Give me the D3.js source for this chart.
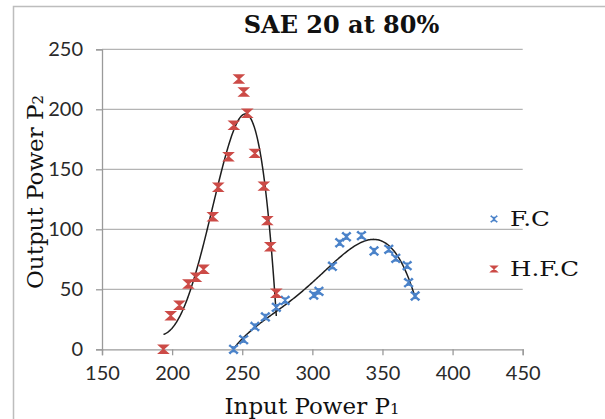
<!DOCTYPE html>
<html>
<head>
<meta charset="utf-8">
<script src="https://cdn.jsdelivr.net/npm/d3@7"></script>
<style>
  body { margin: 0; background: #fff; }
  svg { display: block; }
</style>
</head>
<body>
<svg id="chart"></svg>
<script>
const width = 605,
  height = 419;

// values
const xTicks = [150, 200, 250, 300, 350, 400, 450];
const yTicks = [0, 50, 100, 150, 200, 250];
const seriesNames = ["F.C", "H.F.C"];

const fcInput = [243.8, 251, 259, 266.5, 274.3, 280.6, 301, 304.7, 314.3, 319.5, 324.3, 335, 344, 354.5, 359.5, 367.6, 368.6, 373.3];
const fcOutput = [0, 8, 19, 27, 35, 40.7, 45.2, 48.3, 69.2, 88.8, 93.8, 94.7, 81.9, 83.3, 75.8, 69.7, 55.5, 44.4];

const hfcInput = [193.8, 199, 205.2, 211.6, 217, 222.4, 229, 232.9, 240.2, 244, 247.6, 251.1, 253.6, 259, 265.4, 267.9, 270, 274.3];
const hfcOutput = [0, 28, 36.7, 54.4, 60, 66.7, 110.5, 135, 160.5, 186.7, 225.2, 214.4, 196.7, 163.3, 136, 107.2, 85.5, 46.7];

const trendOrder = 4;

const x = d3.scaleLinear().domain([150, 450]).range([102, 522.7]);
const y = d3.scaleLinear().domain([0, 250]).range([349.3, 49.3]);

const svg = d3
  .select("#chart")
  .attr("width", width)
  .attr("height", height)
  .attr("viewBox", [0, 0, width, height]);

// outer chart border (runs off the picture on right and bottom)
svg
  .append("rect")
  .attr("x", 13.5)
  .attr("y", 6.5)
  .attr("width", 640)
  .attr("height", 440)
  .attr("fill", "none")
  .attr("stroke", "#bdbdbd")
  .attr("stroke-width", 1.5);

// gridlines
svg
  .append("g")
  .selectAll("line")
  .data(yTicks.filter((d) => d > 0))
  .join("line")
  .attr("x1", x(150))
  .attr("x2", x(450))
  .attr("y1", (d) => y(d))
  .attr("y2", (d) => y(d))
  .attr("stroke", "#b4b4b4")
  .attr("stroke-width", 1.3);

// axes
const xAxis = svg
  .append("g")
  .attr("transform", `translate(0,${y(0)})`)
  .call(d3.axisBottom(x).tickValues(xTicks).tickSize(6).tickPadding(11));
const yAxis = svg
  .append("g")
  .attr("transform", `translate(${x(150)},0)`)
  .call(d3.axisLeft(y).tickValues(yTicks).tickSize(6).tickPadding(13));

[xAxis, yAxis].forEach((g) => {
  g.select(".domain").attr("stroke", "#9a9a9a").attr("stroke-width", 1.3);
  g.selectAll(".tick line").attr("stroke", "#9a9a9a").attr("stroke-width", 1.3);
  g.selectAll(".tick text")
    .attr("fill", "#2a2a2a")
    .style("font-family", "Lato, sans-serif")
    .style("font-size", "20px");
});

// least squares polynomial, like the spreadsheet trendline
function polyfit(xs, ys, order) {
  const mx = d3.mean(xs),
    sx = 50,
    n = order + 1;
  const A = Array.from({ length: n }, () => new Array(n + 1).fill(0));
  xs.forEach((xv, i) => {
    const t = (xv - mx) / sx;
    const p = [];
    for (let k = 0; k < 2 * n; k++) p.push(Math.pow(t, k));
    for (let r = 0; r < n; r++) {
      for (let c = 0; c < n; c++) A[r][c] += p[r + c];
      A[r][n] += ys[i] * p[r];
    }
  });
  for (let i = 0; i < n; i++) {
    let m = i;
    for (let r = i + 1; r < n; r++)
      if (Math.abs(A[r][i]) > Math.abs(A[m][i])) m = r;
    [A[i], A[m]] = [A[m], A[i]];
    for (let r = 0; r < n; r++) {
      if (r === i) continue;
      const f = A[r][i] / A[i][i];
      for (let c = i; c <= n; c++) A[r][c] -= f * A[i][c];
    }
  }
  const coef = A.map((row, i) => row[n] / row[i]);
  return (xv) => {
    const t = (xv - mx) / sx;
    return coef.reduce((s, c, k) => s + c * Math.pow(t, k), 0);
  };
}

svg
  .append("clipPath")
  .attr("id", "plot")
  .append("rect")
  .attr("x", x(150))
  .attr("y", y(250))
  .attr("width", x(450) - x(150))
  .attr("height", y(0) - y(250));

const line = d3
  .line()
  .x((d) => x(d[0]))
  .y((d) => y(d[1]));

function trend(xs, ys) {
  const f = polyfit(xs, ys, trendOrder);
  const [lo, hi] = d3.extent(xs);
  const pts = d3.range(0, 201).map((i) => {
    const xv = lo + ((hi - lo) * i) / 200;
    return [xv, f(xv)];
  });
  svg
    .append("path")
    .attr("clip-path", "url(#plot)")
    .attr("d", line(pts))
    .attr("fill", "none")
    .attr("stroke", "#1e1e1e")
    .attr("stroke-width", 1.5);
}

trend(hfcInput, hfcOutput);
trend(fcInput, fcOutput);

const blueX = "M-4.5,-4 Q0,0 4.5,-4 M-4.5,4 Q0,0 4.5,4 M-4,-4.5 L4,4.5 M4,-4.5 L-4,4.5";
const redX = "M-4.5,-4 H4.5 L-4.5,4 H4.5 Z";

function drawMarkers(xs, ys, shape, color) {
  svg
    .append("g")
    .selectAll("path")
    .data(xs.map((d, i) => [d, ys[i]]))
    .join("path")
    .attr("transform", (d) => `translate(${x(d[0])},${y(d[1])})`)
    .attr("d", shape)
    .attr("fill", shape === redX ? color : "none")
    .attr("stroke", color)
    .attr("stroke-width", shape === redX ? 1.4 : 2);
}

drawMarkers(fcInput, fcOutput, blueX, "#4a82c9");
drawMarkers(hfcInput, hfcOutput, redX, "#cc4b47");

// title
svg
  .append("text")
  .attr("x", 341.5)
  .attr("y", 33)
  .attr("text-anchor", "middle")
  .style("font-family", "'DejaVu Serif', serif")
  .style("font-weight", "bold")
  .style("font-size", "24px")
  .attr("fill", "#111")
  .text("SAE 20 at 80%");

// axis titles
const xTitle = svg
  .append("text")
  .attr("x", 312)
  .attr("y", 414)
  .attr("text-anchor", "middle")
  .style("font-family", "'DejaVu Serif', serif")
  .style("font-size", "23px")
  .attr("fill", "#111");
xTitle.append("tspan").text("Input Power P");
xTitle.append("tspan").style("font-size", "15px").text("1");

const yTitle = svg
  .append("text")
  .attr("transform", "translate(43,192) rotate(-90)")
  .attr("text-anchor", "middle")
  .style("font-family", "'DejaVu Serif', serif")
  .style("font-size", "23px")
  .attr("fill", "#111");
yTitle.append("tspan").text("Output Power P");
yTitle.append("tspan").style("font-size", "15px").text("2");

// legend
const legend = svg
  .append("g")
  .selectAll("g")
  .data(seriesNames)
  .join("g")
  .attr("transform", (d, i) => `translate(494,${219 + i * 50})`);

legend
  .append("path")
  .attr("d", (d, i) => (i === 0 ? blueX : redX))
  .attr("transform", "scale(0.75)")
  .attr("fill", (d, i) => (i === 0 ? "none" : "#cc4b47"))
  .attr("stroke", (d, i) => (i === 0 ? "#4a82c9" : "#cc4b47"))
  .attr("stroke-width", (d, i) => (i === 0 ? 2 : 1.4));

legend
  .append("text")
  .attr("x", 16)
  .attr("y", 7)
  .attr("textLength", (d, i) => (i === 0 ? 40 : 69))
  .attr("lengthAdjust", "spacingAndGlyphs")
  .style("font-family", "'DejaVu Serif', serif")
  .style("font-size", "21px")
  .attr("fill", "#111")
  .text((d) => d);
</script>
</body>
</html>
